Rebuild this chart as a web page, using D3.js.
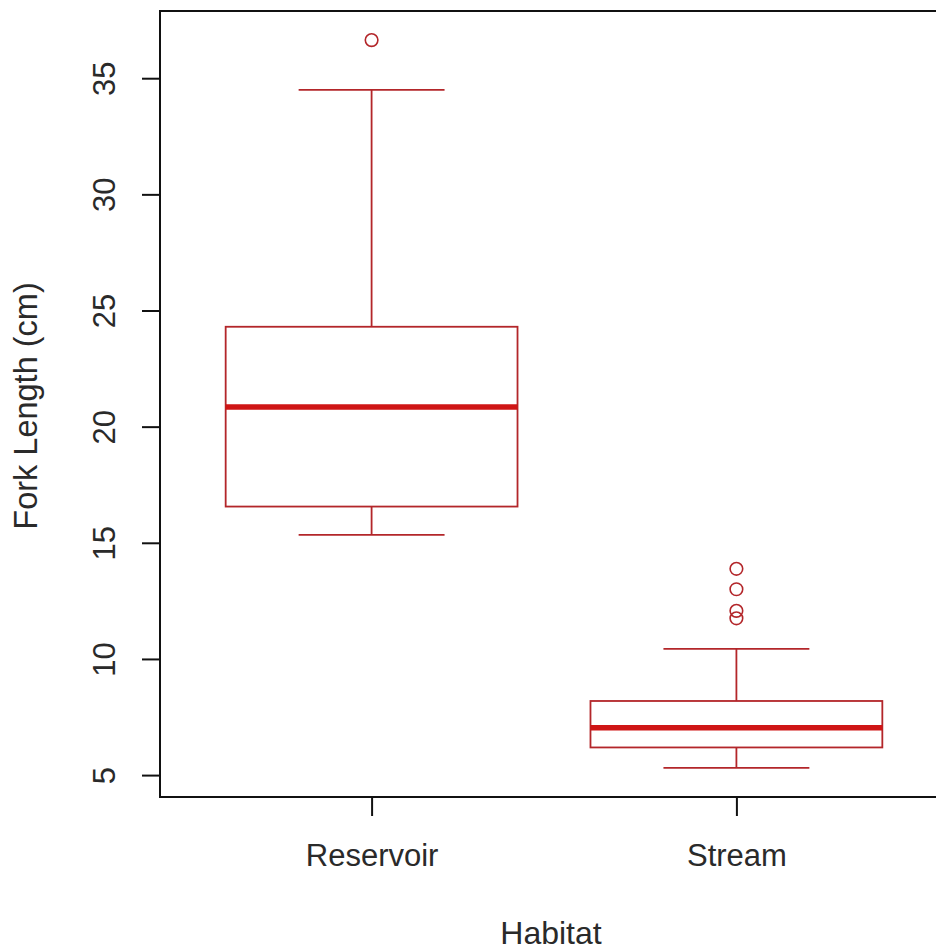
<!DOCTYPE html>
<html>
<head>
<meta charset="utf-8">
<script src="https://cdn.jsdelivr.net/npm/d3@7/dist/d3.min.js"></script>
<style>
  html, body { margin: 0; padding: 0; background: #fff; }
  svg { display: block; }
  text { font-family: "Liberation Sans", Arial, sans-serif; fill: #2a2a2a; }
</style>
</head>
<body>
<svg id="chart" width="936" height="951"></svg>
<script>
// Fork length summary by habitat (five-number summaries plus outliers)
const categories   = ["Reservoir", "Stream"];
const whiskerLow   = [15.34, 5.31];
const quartile1    = [16.56, 6.19];
const medians      = [20.85, 7.04];
const quartile3    = [24.30, 8.19];
const whiskerHigh  = [34.50, 10.43];
const outliers     = [[36.64], [13.88, 13.00, 12.07, 11.75]];
const yTicks       = [5, 10, 15, 20, 25, 30, 35];

const boxColor = "#b3262a";
const medianColor = "#cf1515";
const textColor = "#2a2a2a";
const font = 31;

const svg = d3.select("#chart");
const plotLeft = 160, plotRight = 948, plotTop = 11, plotBottom = 797;

// Positions 1..n with base-R style padding around [0.5, n + 0.5]
const n = categories.length;
const xPad = n * 0.04;
const x = d3.scaleLinear().domain([0.5 - xPad, n + 0.5 + xPad]).range([plotLeft, plotRight]);

const allVals = whiskerLow.concat(whiskerHigh, outliers.flat());
const yMin = d3.min(allVals), yMax = d3.max(allVals);
const yPad = (yMax - yMin) * 0.04;
const y = d3.scaleLinear().domain([yMin - yPad, yMax + yPad]).range([plotBottom, plotTop]);

const boxHalf = 0.4, capHalf = 0.2;

const groups = svg.append("g").selectAll("g")
  .data(categories.map((c, i) => ({
    c, pos: i + 1, lo: whiskerLow[i], q1: quartile1[i], med: medians[i],
    q3: quartile3[i], hi: whiskerHigh[i], out: outliers[i]
  })))
  .join("g");

// whisker stems
groups.append("line")
  .attr("x1", d => x(d.pos)).attr("x2", d => x(d.pos))
  .attr("y1", d => y(d.hi)).attr("y2", d => y(d.q3))
  .attr("stroke", boxColor).attr("stroke-width", 1.8);
groups.append("line")
  .attr("x1", d => x(d.pos)).attr("x2", d => x(d.pos))
  .attr("y1", d => y(d.q1)).attr("y2", d => y(d.lo))
  .attr("stroke", boxColor).attr("stroke-width", 1.8);

// staples
["lo", "hi"].forEach(k => {
  groups.append("line")
    .attr("x1", d => x(d.pos - capHalf)).attr("x2", d => x(d.pos + capHalf))
    .attr("y1", d => y(d[k])).attr("y2", d => y(d[k]))
    .attr("stroke", boxColor).attr("stroke-width", 1.8);
});

// boxes
groups.append("rect")
  .attr("x", d => x(d.pos - boxHalf))
  .attr("width", d => x(d.pos + boxHalf) - x(d.pos - boxHalf))
  .attr("y", d => y(d.q3))
  .attr("height", d => y(d.q1) - y(d.q3))
  .attr("fill", "none").attr("stroke", boxColor).attr("stroke-width", 1.8);

// medians
groups.append("line")
  .attr("x1", d => x(d.pos - boxHalf)).attr("x2", d => x(d.pos + boxHalf))
  .attr("y1", d => y(d.med)).attr("y2", d => y(d.med))
  .attr("stroke", medianColor).attr("stroke-width", 5.5);

// outliers
groups.selectAll("circle")
  .data(d => d.out.map(v => ({ pos: d.pos, v })))
  .join("circle")
  .attr("cx", d => x(d.pos)).attr("cy", d => y(d.v))
  .attr("r", 6.3)
  .attr("fill", "none").attr("stroke", boxColor).attr("stroke-width", 1.6);

// plot frame
svg.append("rect")
  .attr("x", plotLeft).attr("y", plotTop)
  .attr("width", plotRight - plotLeft).attr("height", plotBottom - plotTop)
  .attr("fill", "none").attr("stroke", "#111").attr("stroke-width", 2);

// y axis
const yAxis = svg.append("g")
  .attr("transform", `translate(${plotLeft},0)`)
  .call(d3.axisLeft(y).tickValues(yTicks).tickSize(18).tickFormat(d3.format("d")));
yAxis.select(".domain").remove();
yAxis.selectAll(".tick line").attr("stroke", "#111").attr("stroke-width", 2);
yAxis.selectAll(".tick text")
  .attr("x", null).attr("dy", null)
  .attr("transform", "translate(-45,0) rotate(-90)")
  .attr("text-anchor", "middle")
  .style("font-size", font + "px").style("fill", textColor);

// x axis
const xAxis = svg.append("g")
  .attr("transform", `translate(0,${plotBottom})`)
  .call(d3.axisBottom(x).tickValues(d3.range(1, n + 1)).tickSize(19)
    .tickFormat(i => categories[i - 1]));
xAxis.select(".domain").remove();
xAxis.selectAll(".tick line").attr("stroke", "#111").attr("stroke-width", 2);
xAxis.selectAll(".tick text")
  .attr("y", 69).attr("dy", null)
  .attr("text-anchor", "middle")
  .style("font-size", font + "px").style("fill", textColor);

// axis titles
svg.append("text")
  .attr("x", 551).attr("y", 944)
  .attr("text-anchor", "middle")
  .style("font-size", "32px")
  .text("Habitat");

svg.append("text")
  .attr("transform", `translate(37,406) rotate(-90)`)
  .attr("text-anchor", "middle")
  .style("font-size", "32.5px")
  .text("Fork Length (cm)");
</script>
</body>
</html>
